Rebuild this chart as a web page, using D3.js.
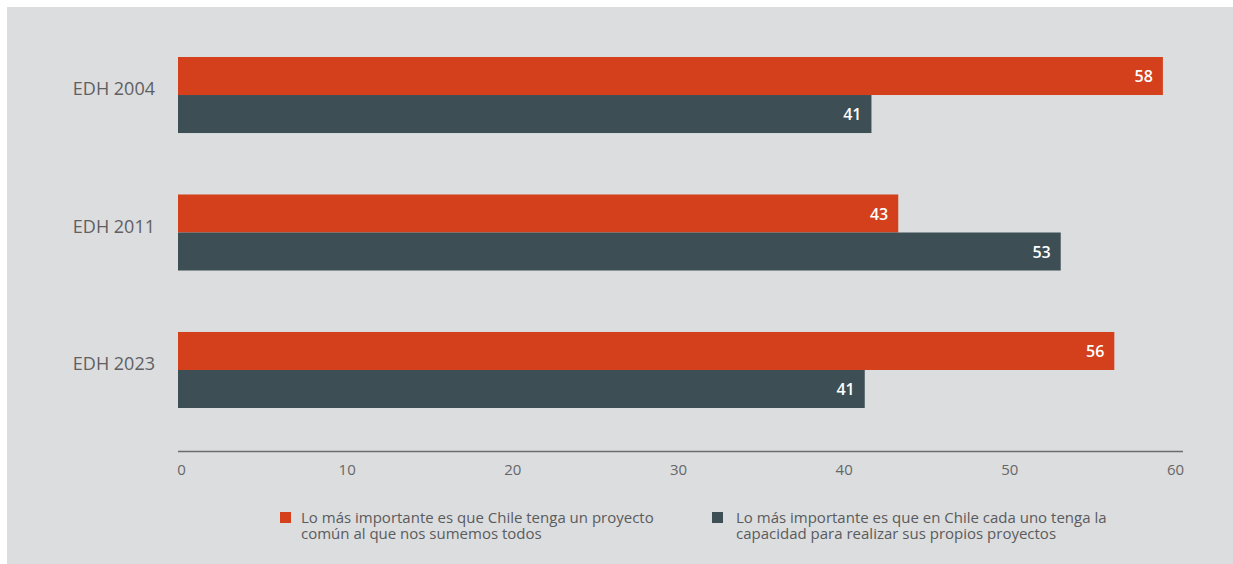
<!DOCTYPE html>
<html>
<head>
<meta charset="utf-8">
<script src="https://cdn.jsdelivr.net/npm/d3@7"></script>
<style>
  html, body { margin: 0; padding: 0; background: #ffffff; }
  svg { display: block; font-family: "Open Sans", "Noto Sans", sans-serif; }
</style>
</head>
<body>
<div id="chart"></div>
<script>
// categorias (eje vertical)
const categories = ['EDH 2004', 'EDH 2011', 'EDH 2023'];
const seriesNames = [
  'Lo más importante es que Chile tenga un proyecto común al que nos sumemos todos',
  'Lo más importante es que en Chile cada uno tenga la capacidad para realizar sus propios proyectos'
];
const proyectoComun = [58.8, 43.0, 55.9];
const proyectoPropio = [41.4, 52.7, 41.0];
const proyectoComunLabels = ['58', '43', '56'];
const proyectoPropioLabels = ['41', '53', '41'];
const xTicks = [0, 10, 20, 30, 40, 50, 60];
// lineas de la leyenda
const legendLines = [
  ['Lo más importante es que Chile tenga un proyecto', 'común al que nos sumemos todos'],
  ['Lo más importante es que en Chile cada uno tenga la', 'capacidad para realizar sus propios proyectos']
];

const colors = ['#d4401c', '#3d4f55'];
const W = 1233, H = 564;

const svg = d3.select('#chart').append('svg')
  .attr('width', W)
  .attr('height', H);

// fondo gris del panel
svg.append('rect')
  .attr('x', 7).attr('y', 7)
  .attr('width', W - 7).attr('height', H - 7)
  .attr('fill', '#dcdddf');

const x = d3.scaleLinear().domain([0, 60]).range([178, 1183]);
// las etiquetas del eje estan algo desplazadas respecto de la escala de barras
const xLabel = d3.scaleLinear().domain([0, 60]).range([181, 1175]);

const y = d3.scaleBand()
  .domain(categories)
  .range([57, 408])
  .paddingInner(0.447)
  .paddingOuter(0);

const ySub = d3.scaleBand()
  .domain([0, 1])
  .range([0, y.bandwidth()]);

const rows = categories.map((c, i) => ({
  cat: c,
  vals: [
    { s: 0, v: proyectoComun[i], label: proyectoComunLabels[i] },
    { s: 1, v: proyectoPropio[i], label: proyectoPropioLabels[i] }
  ]
}));

const groups = svg.append('g')
  .selectAll('g')
  .data(rows)
  .enter()
  .append('g')
  .attr('transform', (d) => `translate(0,${y(d.cat)})`);

groups.selectAll('rect')
  .data((d) => d.vals)
  .enter()
  .append('rect')
  .attr('x', x(0))
  .attr('y', (d) => ySub(d.s))
  .attr('width', (d) => x(d.v) - x(0))
  .attr('height', ySub.bandwidth())
  .attr('fill', (d) => colors[d.s]);

groups.selectAll('text.val')
  .data((d) => d.vals)
  .enter()
  .append('text')
  .attr('class', 'val')
  .attr('x', (d) => x(d.v) - 10)
  .attr('y', (d) => ySub(d.s) + ySub.bandwidth() / 2)
  .attr('dy', '0.38em')
  .attr('text-anchor', 'end')
  .attr('fill', '#ffffff')
  .style('font-size', '16px')
  .style('font-weight', 600)
  .text((d) => d.label);

// etiquetas de categoria
svg.append('g')
  .selectAll('text')
  .data(categories)
  .enter()
  .append('text')
  .attr('x', 155)
  .attr('y', (d) => y(d) + y.bandwidth() / 2)
  .attr('text-anchor', 'end')
  .attr('fill', '#5f6061')
  .style('font-size', '18px')
  .text((d) => d);

// eje x: solo la linea
svg.append('line')
  .attr('x1', x(0)).attr('x2', x(60))
  .attr('y1', 451.5).attr('y2', 451.5)
  .attr('stroke', '#6b6c6d')
  .attr('stroke-width', 1.5);

svg.append('g')
  .attr('transform', 'translate(0,451.5)')
  .call(d3.axisBottom(xLabel).tickValues(xTicks).tickSize(0).tickPadding(13))
  .call((g) => g.select('.domain').remove())
  .call((g) => g.selectAll('text')
    .attr('fill', '#666768')
    .style('font-size', '15px')
    .style('font-family', '"Open Sans", "Noto Sans", sans-serif'));

// leyenda
const legendX = [280, 712];
const legend = svg.append('g')
  .selectAll('g')
  .data(seriesNames)
  .enter()
  .append('g')
  .attr('transform', (d, i) => `translate(${legendX[i]},512)`);

legend.append('rect')
  .attr('width', 11)
  .attr('height', 11)
  .attr('fill', (d, i) => colors[i]);

legend.append('text')
  .attr('x', (d, i) => i === 0 ? 21 : 24)
  .attr('y', 0)
  .attr('fill', '#5a5b5c')
  .style('font-size', '15px')
  .selectAll('tspan')
  .data((d, i) => legendLines[i])
  .enter()
  .append('tspan')
  .attr('x', function () { return d3.select(this.parentNode).attr('x'); })
  .attr('dy', (d, j) => j === 0 ? '10.5' : '16')
  .text((d) => d);
</script>
</body>
</html>
